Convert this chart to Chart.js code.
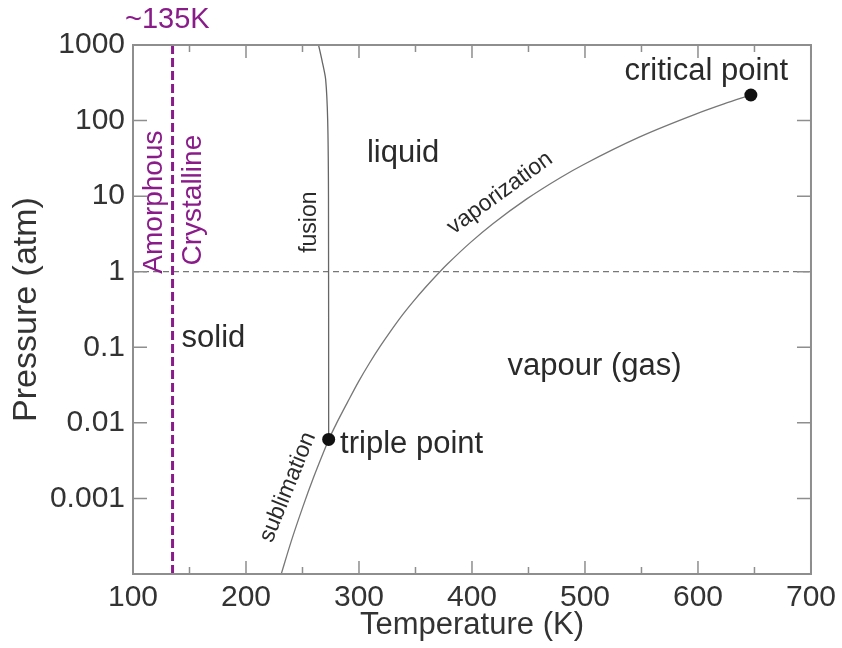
<!DOCTYPE html>
<html>
<head>
<meta charset="utf-8">
<title>Phase diagram of water</title>
<script src="https://cdn.jsdelivr.net/npm/chart.js@4.4.1/dist/chart.umd.min.js"></script>
<style>
    body { margin: 0; background: #fff; }
    #phase-chart { display: block; }
</style>
</head>
<body>
<canvas id="phase-chart" width="842" height="648"></canvas>
<script>
// phase boundaries (temperature K, pressure atm)
var sublimationT = [231.2, 240, 250, 260, 273.16];
var sublimationP = [0.0001, 0.00027, 0.00075, 0.00193, 0.00603];

var vaporizationT = [273.16, 280, 290, 299.5, 309.2, 319, 328.8, 338.5, 348.5, 358.5, 371.6, 378.5,
                     398.5, 418.5, 448.5, 478.5, 498.5, 548, 598, 623, 646.8];
var vaporizationP = [0.00603, 0.00978, 0.01894, 0.0349, 0.0615, 0.1041, 0.1699, 0.2683, 0.4113, 0.6138, 1.0, 1.272,
                     2.426, 4.315, 9.199, 17.68, 26.05, 60.37, 121.8, 166, 218];

var fusionT = [264.2, 267.5, 270.5, 272.3, 273.0, 273.16];
var fusionP = [1000, 600, 350, 100, 10, 0.00603];

// triple point, critical point
var specialT = [273.16, 646.8];
var specialP = [0.00603, 218];

var oneAtm = 1;
var glassT = 135;

var tempRange = [100, 700];
var pressureRange = [0.0001, 1000];
var tempTicks = [100, 200, 300, 400, 500, 600, 700];
var tempMinorTicks = [150, 250, 350, 450, 550, 650];
var pressureTicks = [1000, 100, 10, 1, 0.1, 0.01, 0.001];

var FONT = "'Liberation Sans', Arial, Helvetica, sans-serif";
var PURPLE = '#8a1c8a';
var TEXT = '#2a2a2a';

// text placed on the diagram, anchored in data units
var labels = [
    { text: 'critical point', T: 535, P: 343, size: 31, align: 'left', base: 'alphabetic', angle: 0, color: TEXT },
    { text: 'liquid', T: 307, P: 28.2, size: 31, align: 'left', base: 'alphabetic', angle: 0, color: TEXT },
    { text: 'vapour (gas)', T: 431.5, P: 0.0426, size: 31, align: 'left', base: 'alphabetic', angle: 0, color: TEXT },
    { text: 'triple point', T: 283.3, P: 0.00394, size: 31, align: 'left', base: 'alphabetic', angle: 0, color: TEXT },
    { text: 'solid', T: 143, P: 0.101, size: 31, align: 'left', base: 'alphabetic', angle: 0, color: TEXT },
    { text: 'fusion', T: 256.2, P: 4.53, size: 23, align: 'center', base: 'middle', angle: -90, color: TEXT },
    { text: 'vaporization', T: 424.8, P: 10.96, size: 23, align: 'center', base: 'middle', angle: -36, color: TEXT },
    { text: 'sublimation', T: 237.1, P: 0.00141, size: 23, align: 'center', base: 'middle', angle: -68, color: TEXT },
    { text: '~135K', T: 130.4, P: 1679, size: 29, align: 'center', base: 'alphabetic', angle: 0, color: PURPLE },
    { text: 'Amorphous', T: 126, P: 8.34, size: 28, align: 'center', base: 'alphabetic', angle: -90, color: PURPLE },
    { text: 'Crystalline', T: 160, P: 8.85, size: 28, align: 'center', base: 'alphabetic', angle: -90, color: PURPLE }
];

function pts(xs, ys) {
    return xs.map(function(x, i) { return { x: x, y: ys[i] }; });
}

// box round the plot, inward ticks on all four sides, and the text labels
var frameAndLabels = {
    id: 'frameAndLabels',
    afterDraw: function(chart) {
        var c = chart.ctx, a = chart.chartArea;
        var xs = chart.scales.x, ys = chart.scales.y;
        c.save();
        c.strokeStyle = '#8e8e8e';
        c.lineWidth = 1.5;
        c.beginPath();
        tempTicks.forEach(function(t) {
            var px = xs.getPixelForValue(t);
            c.moveTo(px, a.bottom); c.lineTo(px, a.bottom - 13);
            c.moveTo(px, a.top); c.lineTo(px, a.top + 13);
        });
        tempMinorTicks.forEach(function(t) {
            var px = xs.getPixelForValue(t);
            c.moveTo(px, a.bottom); c.lineTo(px, a.bottom - 7);
            c.moveTo(px, a.top); c.lineTo(px, a.top + 7);
        });
        pressureTicks.forEach(function(p) {
            var py = ys.getPixelForValue(p);
            c.moveTo(a.left, py); c.lineTo(a.left + 14, py);
            c.moveTo(a.right, py); c.lineTo(a.right - 14, py);
        });
        c.stroke();
        c.lineWidth = 2;
        c.strokeRect(a.left, a.top, a.right - a.left, a.bottom - a.top);

        labels.forEach(function(l) {
            c.save();
            c.translate(xs.getPixelForValue(l.T), ys.getPixelForValue(l.P));
            c.rotate(l.angle * Math.PI / 180);
            c.font = l.size + 'px ' + FONT;
            c.fillStyle = l.color;
            c.textAlign = l.align;
            c.textBaseline = l.base;
            c.fillText(l.text, 0, 0);
            c.restore();
        });
        c.restore();
    }
};

var ctx = document.getElementById('phase-chart').getContext('2d');
var phaseChart = new Chart(ctx, {
    type: 'scatter',
    data: {
        datasets: [{
            label: 'triple / critical point',
            data: pts(specialT, specialP),
            pointRadius: 6.5,
            pointBackgroundColor: '#111',
            pointBorderWidth: 0,
            showLine: false
        }, {
            label: 'fusion',
            data: pts(fusionT, fusionP),
            showLine: true,
            borderColor: '#666',
            borderWidth: 1.3,
            pointRadius: 0,
            tension: 0.25
        }, {
            label: 'sublimation',
            data: pts(sublimationT, sublimationP),
            showLine: true,
            borderColor: '#777',
            borderWidth: 1.3,
            pointRadius: 0,
            cubicInterpolationMode: 'monotone'
        }, {
            label: 'vaporization',
            data: pts(vaporizationT, vaporizationP),
            showLine: true,
            borderColor: '#777',
            borderWidth: 1.3,
            pointRadius: 0,
            cubicInterpolationMode: 'monotone'
        }, {
            label: '~135K',
            data: pts([glassT, glassT], pressureRange),
            showLine: true,
            borderColor: PURPLE,
            borderWidth: 3,
            borderDash: [9, 4],
            pointRadius: 0
        }, {
            label: '1 atm',
            data: pts(tempRange, [oneAtm, oneAtm]),
            showLine: true,
            borderColor: '#555',
            borderWidth: 1,
            borderDash: [6, 4],
            pointRadius: 0
        }]
    },
    options: {
        responsive: false,
        animation: false,
        events: [],
        layout: { padding: { top: 45, right: 29, left: 0, bottom: 0 } },
        plugins: {
            legend: { display: false },
            tooltip: { enabled: false }
        },
        scales: {
            x: {
                type: 'linear',
                min: tempRange[0],
                max: tempRange[1],
                afterBuildTicks: function(s) {
                    s.ticks = tempTicks.map(function(v) { return { value: v }; });
                },
                afterFit: function(s) { s.height = 74; },
                grid: { display: false, drawTicks: false },
                border: { display: false },
                ticks: {
                    padding: 6,
                    color: '#333',
                    font: { family: FONT, size: 30 },
                    maxRotation: 0
                },
                title: {
                    display: true,
                    text: 'Temperature (K)',
                    color: '#333',
                    font: { family: FONT, size: 31 },
                    padding: { top: 0, bottom: 4 }
                }
            },
            y: {
                type: 'logarithmic',
                min: pressureRange[0],
                max: pressureRange[1],
                afterBuildTicks: function(s) {
                    s.ticks = pressureTicks.map(function(v) { return { value: v }; });
                },
                afterFit: function(s) { s.width = 133; },
                grid: { display: false, drawTicks: false },
                border: { display: false },
                ticks: {
                    padding: 8,
                    color: '#333',
                    font: { family: FONT, size: 30 },
                    callback: function(v) { return String(v); }
                },
                title: {
                    display: true,
                    text: 'Pressure (atm)',
                    color: '#333',
                    font: { family: FONT, size: 34 },
                    padding: { top: 6, bottom: 0 }
                }
            }
        }
    },
    plugins: [frameAndLabels]
});
</script>
</body>
</html>
